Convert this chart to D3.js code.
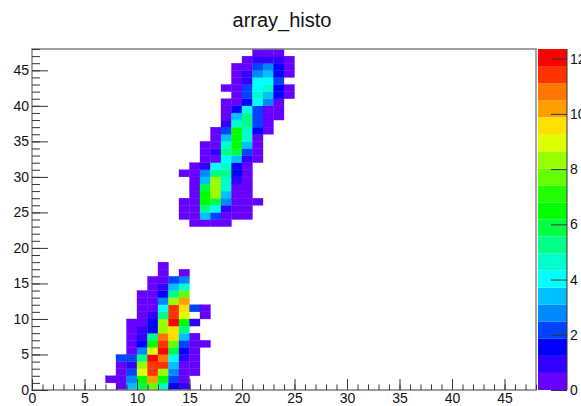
<!DOCTYPE html>
<html><head><meta charset="utf-8">
<script src="https://cdn.jsdelivr.net/npm/d3@7"></script>
<style>html,body{margin:0;padding:0;background:#fff;overflow:hidden}svg{display:block}text{font-family:"Liberation Sans",Arial,sans-serif}</style>
</head><body><svg id="c" width="581" height="406"></svg>
<script>
const chartTitle = "array_histo";
const xTickLabels = [0,5,10,15,20,25,30,35,40,45];
const yTickLabels = [0,5,10,15,20,25,30,35,40,45];
const zTickLabels = [0,2,4,6,8,10,12];
const axisMax = 48;
const zMax = 12.35;
const palette = ["#6600ff","#3300ff","#0000ff","#0044ff","#0088ff","#00c0ff","#00ffff","#00ffcc","#00ff88","#00ff44","#00ff00","#22ff00","#66ff00","#99ff00","#e0ff00","#ffe000","#ffa000","#ff7700","#ff3300","#ff0000"];
// [row (y bin), first column (x bin), bin contents; null = empty bin]
const lowerCluster = [
 [0,8,[.3,3.4,5.9,7.7,4.6,1.5,.9]],
 [1,7,[.3,.3,2.8,6.5,10.2,6.5,2.2,.3]],
 [2,8,[.3,2.2,9,11.4,8.3,2.8,.3,.3]],
 [3,8,[.3,.9,8.3,11.4,11.4,3.4,.3,.3]],
 [4,8,[2.2,2.2,5.2,12,10.8,4,.9,.3]],
 [5,9,[.3,2.8,9,12,5.9,1.5,.3]],
 [6,9,[.3,1.5,6.5,11.4,7.7,2.2,.3,.3]],
 [7,9,[.3,.9,5.2,10.8,9.6,3.4,.3]],
 [8,9,[.3,.9,1.5,8.3,9.6,5.2]],
 [9,9,[.3,.3,1.5,8.3,12,6.5,.9]],
 [10,10,[.3,.9,5.2,11.4,9,null,.3]],
 [11,10,[.3,.3,4,11.4,9.6,2.2,.3]],
 [12,10,[.3,.3,2.8,8.3,10.2]],
 [13,10,[.3,.3,1.5,5.2,7.7]],
 [14,11,[.3,.9,3.4,4.6]],
 [15,11,[.3,.3,2.2,2.8]],
 [16,12,[.3,null,.3]],
 [17,12,[.3]]
];
const upperCluster = [
 [23,15,[.3,.3,.3,.3]],
 [24,14,[.3,.3,3.4,2.2,.3,.3,.3]],
 [25,14,[.3,.3,5.2,4,.9,.3,.3]],
 [26,14,[.3,.3,6.5,5.9,2.8,.3,.3,.3]],
 [27,15,[.3,6.2,8.3,3.4,.3,.3]],
 [28,15,[.3,5.9,8.3,4.6,.3,.3]],
 [29,15,[.3,3.4,8.3,4.6,.9,.3]],
 [30,14,[.3,.3,2.8,5.5,5.5,1.5,.3]],
 [31,15,[.3,.9,4,4.6,1.5,.3]],
 [32,16,[.3,.3,4,3.4,.9,.3]],
 [33,16,[.3,.9,5.2,5.9,2.2,.3]],
 [34,16,[.3,.3,4.6,6.5,3.4,.3]],
 [35,17,[.3,3.4,6.5,4.6,.3]],
 [36,17,[.3,2.2,6.5,4.6,1.5,.3]],
 [37,18,[.9,4.6,5.2,2.2,.3]],
 [38,18,[.3,3.4,5.2,2.2,.3,.3]],
 [39,18,[.3,1.5,4,2.2,.3,.3]],
 [40,18,[.3,.3,1.5,4,2.8,.3]],
 [41,19,[.3,2.2,4.6,3.4,1.5,.3]],
 [42,18,[.3,.3,2.2,4,4.6,1.5,.3]],
 [43,19,[.3,.9,4,4,2.2]],
 [44,19,[.3,.9,2.8,3.4,1.5,.3]],
 [45,19,[.3,.3,2.2,2.8,1.5,.3]],
 [46,20,[.3,.9,.9,.9,.3]],
 [47,21,[.3,.3,.3]]
];

const svg = d3.select("#c");
const L=32,R=536,T=49,B=390, PL=538, PR=567;
const x = d3.scaleLinear().domain([0,axisMax]).range([L,L+axisMax*10.5]);
const y = d3.scaleLinear().domain([0,axisMax]).range([B,B-axisMax*7.104]);
const z = d3.scaleLinear().domain([0,zMax]).range([B,T]);
const col = d3.scaleQuantize().domain([0,zMax]).range(palette);

const cells = [];
for (const [r,c0,vals] of lowerCluster.concat(upperCluster))
  vals.forEach((v,i)=>{ if(v!==null) cells.push({c:c0+i,r,v}); });

svg.append("g").selectAll("rect").data(cells).join("rect")
  .attr("x",d=>x(d.c)).attr("y",d=>y(d.r+1))
  .attr("width",d=>x(d.c+1)-x(d.c)).attr("height",d=>y(d.r)-y(d.r+1))
  .attr("fill",d=>col(d.v)).attr("stroke",d=>col(d.v)).attr("stroke-width",.3);

// palette bar
const stepZ = zMax/palette.length;
svg.append("g").selectAll("rect").data(palette).join("rect")
  .attr("x",PL).attr("width",PR-PL)
  .attr("y",(d,i)=>z((i+1)*stepZ)).attr("height",(d,i)=>z(i*stepZ)-z((i+1)*stepZ))
  .attr("fill",d=>d);

// frame
const frameColor="#808080";
svg.append("path").attr("d",`M${L},${B}V${T}H${R}V${B}Z`).attr("fill","none").attr("stroke",frameColor).attr("stroke-width",1.4);
svg.append("line").attr("x1",PR).attr("x2",PR).attr("y1",T).attr("y2",B).attr("stroke","#333");

function styleAxis(g){ g.select(".domain").remove(); g.selectAll("line").attr("stroke","#333").attr("stroke-width",1);
  g.selectAll("text").attr("fill","#111").style("font-size","14px"); }

svg.append("g").attr("transform",`translate(0,${B})`)
  .call(d3.axisTop(x).tickValues(d3.range(0,axisMax+1)).tickSize(5.5).tickFormat(""))
  .call(styleAxis);
svg.append("g").attr("transform",`translate(0,${B})`)
  .call(d3.axisTop(x).tickValues(xTickLabels).tickSize(11).tickFormat(""))
  .call(styleAxis);
svg.append("g").attr("transform",`translate(0,${B})`)
  .call(d3.axisBottom(x).tickValues(xTickLabels).tickSize(0).tickPadding(3))
  .call(styleAxis);

svg.append("g").attr("transform",`translate(${L},0)`)
  .call(d3.axisRight(y).tickValues(d3.range(0,axisMax+1)).tickSize(8).tickFormat(""))
  .call(styleAxis);
svg.append("g").attr("transform",`translate(${L},0)`)
  .call(d3.axisRight(y).tickValues(yTickLabels).tickSize(16).tickFormat(""))
  .call(styleAxis);
svg.append("g").attr("transform",`translate(${L},0)`)
  .call(d3.axisLeft(y).tickValues(yTickLabels).tickSize(0).tickPadding(3))
  .call(styleAxis);

svg.append("g").attr("transform",`translate(${PR},0)`)
  .call(d3.axisLeft(z).tickValues(zTickLabels).tickSize(16).tickFormat(""))
  .call(styleAxis);
svg.append("g").attr("transform",`translate(${PR},0)`)
  .call(d3.axisRight(z).tickValues(zTickLabels).tickSize(0).tickPadding(3))
  .call(styleAxis);

svg.append("text").attr("x",282).attr("y",27).attr("text-anchor","middle")
  .style("font-size","20px").attr("fill","#111").text(chartTitle);
</script></body></html>
